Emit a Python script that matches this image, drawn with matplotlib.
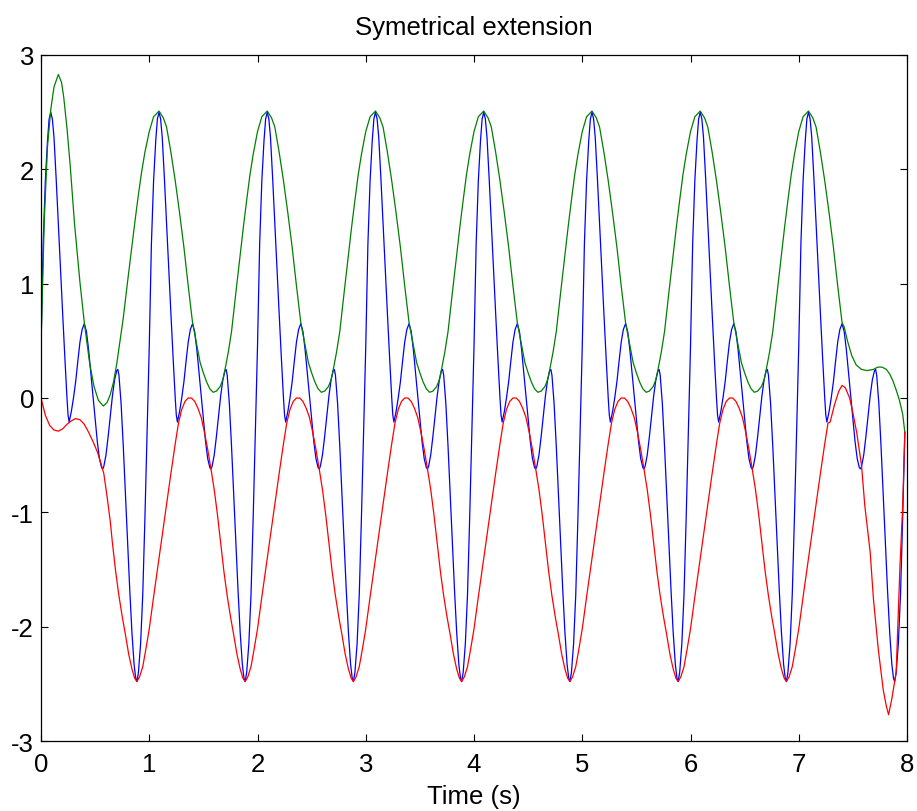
"""
symmetrical extension plot: signal with upper/lower envelopes
"""
import matplotlib.pyplot as plt
import numpy as np

plt.rcParams["font.family"] = ["Liberation Sans", "DejaVu Sans"]
plt.rcParams["axes.unicode_minus"] = False

N_PERIODS = 8

# signal: one period (offset inside each second, value)
signal_t = [0.00, 0.02, 0.04, 0.06, 0.075, 0.09, 0.105, 0.12, 0.14, 0.16,
            0.18, 0.20, 0.22, 0.24, 0.25, 0.26, 0.28, 0.30, 0.32, 0.34,
            0.36, 0.38, 0.40, 0.42, 0.44, 0.46, 0.48, 0.50, 0.52, 0.54,
            0.56, 0.57, 0.58, 0.60, 0.62, 0.64, 0.66, 0.68, 0.70, 0.71,
            0.72, 0.74, 0.76, 0.78, 0.80, 0.82, 0.84, 0.86, 0.875, 0.886,
            0.90, 0.92, 0.94, 0.96, 0.98]
signal_v = [0.45, 1.35, 1.90, 2.25, 2.44, 2.50, 2.44, 2.28, 1.92, 1.52,
            1.12, 0.74, 0.36, 0.00, -0.15, -0.21, -0.12, 0.00, 0.14, 0.32,
            0.49, 0.60, 0.65, 0.58, 0.42, 0.22, 0.02, -0.18, -0.38, -0.53,
            -0.61, -0.62, -0.60, -0.50, -0.34, -0.16, 0.02, 0.16, 0.24, 0.25,
            0.20, -0.05, -0.42, -0.84, -1.26, -1.68, -2.05, -2.33, -2.45, -2.48,
            -2.40, -2.15, -1.72, -1.05, -0.30]

# upper envelope: repeating period + first and last second
upper_t = [0.00, 0.04, 0.09, 0.13, 0.16, 0.20, 0.24, 0.28, 0.32, 0.36,
           0.40, 0.44, 0.47, 0.50, 0.53, 0.56, 0.59, 0.62, 0.655, 0.68,
           0.70, 0.73, 0.76, 0.80, 0.84, 0.87, 0.90, 0.93, 0.96]
upper_v = [2.33, 2.46, 2.51, 2.45, 2.37, 2.15, 1.90, 1.62, 1.32, 0.98,
           0.66, 0.46, 0.31, 0.22, 0.14, 0.08, 0.05, 0.06, 0.10, 0.16,
           0.25, 0.40, 0.58, 0.92, 1.25, 1.50, 1.73, 1.95, 2.13]
upper_head_t = [0.00, 0.03, 0.06, 0.09, 0.12, 0.16, 0.19, 0.21, 0.24, 0.27,
                0.31, 0.36, 0.40, 0.45, 0.49, 0.53, 0.575, 0.61, 0.64, 0.67,
                0.70, 0.73, 0.76, 0.80, 0.84, 0.87, 0.90, 0.93, 0.96]
upper_head_v = [0.45, 1.55, 2.20, 2.52, 2.72, 2.83, 2.76, 2.63, 2.36, 2.03,
                1.52, 1.01, 0.66, 0.30, 0.10, -0.02, -0.07, -0.04, 0.03, 0.14,
                0.30, 0.50, 0.70, 1.02, 1.33, 1.56, 1.78, 1.98, 2.15]
upper_tail_t = [7.42, 7.45, 7.49, 7.53, 7.58, 7.63, 7.69, 7.73, 7.77, 7.81,
                7.84, 7.87, 7.90, 7.93, 7.96, 7.98]
upper_tail_v = [0.62, 0.50, 0.37, 0.29, 0.25, 0.24, 0.25, 0.27, 0.27, 0.25,
                0.21, 0.15, 0.07, -0.02, -0.14, -0.30]

# lower envelope
lower_t = [0.00, 0.04, 0.08, 0.12, 0.16, 0.20, 0.24, 0.27, 0.30, 0.33,
           0.36, 0.39, 0.42, 0.45, 0.48, 0.51, 0.54, 0.57, 0.60, 0.63,
           0.66, 0.69, 0.72, 0.75, 0.78, 0.81, 0.84, 0.865, 0.886, 0.91,
           0.94, 0.97]
lower_v = [-2.02, -1.74, -1.47, -1.20, -0.93, -0.66, -0.40, -0.22, -0.10, -0.03,
           0.00, 0.00, -0.03, -0.09, -0.17, -0.30, -0.45, -0.62, -0.80, -1.02,
           -1.27, -1.52, -1.73, -1.91, -2.07, -2.24, -2.37, -2.45, -2.48, -2.44,
           -2.35, -2.19]
lower_head_t = [0.00, 0.04, 0.08, 0.12, 0.16, 0.20, 0.24, 0.28, 0.32, 0.36,
                0.40, 0.44, 0.48, 0.52, 0.55, 0.58, 0.61, 0.64]
lower_head_v = [0.00, -0.15, -0.24, -0.28, -0.29, -0.27, -0.23, -0.20, -0.18, -0.19,
                -0.23, -0.30, -0.38, -0.47, -0.56, -0.66, -0.86, -1.08]
lower_tail_t = [7.29, 7.33, 7.37, 7.40, 7.43, 7.47, 7.50, 7.535, 7.58, 7.61,
                7.66, 7.69, 7.735, 7.78, 7.81, 7.83, 7.86, 7.90, 7.935, 7.96,
                7.98]
lower_tail_v = [-0.21, -0.06, 0.06, 0.11, 0.09, 0.00, -0.13, -0.30, -0.59, -0.94,
                -1.35, -1.76, -2.20, -2.55, -2.70, -2.77, -2.63, -2.40, -1.47, -0.95,
                -0.30]


def assemble(per_t, per_v, head_t=(), head_v=(), tail_t=(), tail_v=()):
    t = np.concatenate([np.asarray(per_t) + k for k in range(N_PERIODS)])
    v = np.tile(per_v, N_PERIODS)
    lo = head_t[-1] if len(head_t) else -1.0
    hi = tail_t[0] if len(tail_t) else 99.0
    keep = (t > lo) & (t < hi)
    return (np.concatenate([head_t, t[keep], tail_t]),
            np.concatenate([head_v, v[keep], tail_v]))


sig_t, sig = assemble(signal_t, signal_v)
up_t, up = assemble(upper_t, upper_v, upper_head_t, upper_head_v,
                    upper_tail_t, upper_tail_v)
lo_t, lo = assemble(lower_t, lower_v, lower_head_t, lower_head_v,
                    lower_tail_t, lower_tail_v)

W, H = 917, 812
fig = plt.figure(figsize=(W / 100, H / 100), dpi=100)
ax = fig.add_axes([41 / W, 1 - 742 / H, 866 / W, 686 / H])

ax.plot(sig_t, sig, color=(0, 0, 1), lw=0.9)
ax.plot(up_t, up, color=(0, 0.5, 0), lw=0.9)
ax.plot(lo_t, lo, color=(1, 0, 0), lw=0.9)

ax.set_xlim(0, 8)
ax.set_ylim(-3, 3)
ax.set_xticks(range(0, 9))
ax.set_yticks(range(-3, 4))
ax.tick_params(axis="both", direction="in", top=True, right=True, length=5,
               width=0.8, labelsize=18.5)
ax.tick_params(axis="x", pad=8)
ax.tick_params(axis="y", pad=5)
for sp in ax.spines.values():
    sp.set_linewidth(0.9)
ax.set_title("Symetrical extension", fontsize=18.5, pad=15)
ax.set_xlabel("Time (s)", fontsize=18.5, labelpad=6)

fig.savefig("out.png", dpi=100)
